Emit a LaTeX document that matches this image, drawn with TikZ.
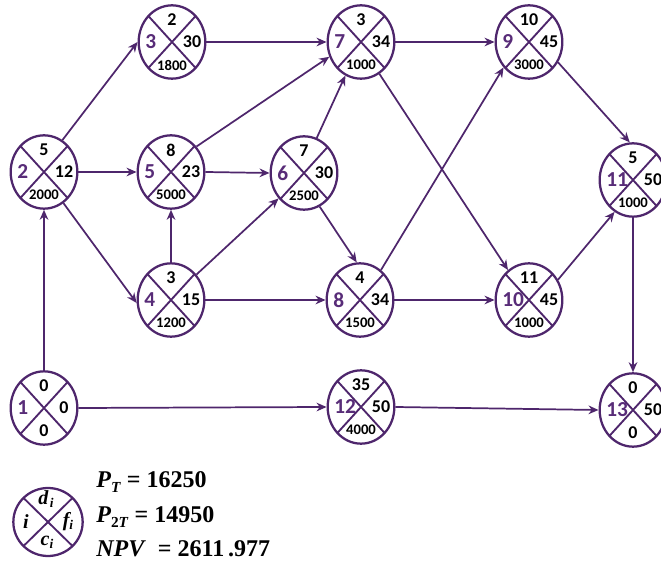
\documentclass[tikz,border=0pt]{standalone}
\usepackage{fontspec}
\setmainfont{Liberation Serif}
\newfontfamily\nodefont{Carlito}
\usetikzlibrary{arrows.meta,shapes.geometric}
\definecolor{lc}{RGB}{78,38,108}
\definecolor{nc}{RGB}{88,44,120}
\tikzset{
  ev/.style={ellipse, draw=lc, line width=1.7pt, minimum width=50pt, minimum height=55pt, inner sep=0pt,
    path picture={\draw[lc, line width=1.4pt] (path picture bounding box.north west) -- (path picture bounding box.south east)
      (path picture bounding box.north east) -- (path picture bounding box.south west);}},
  numi/.style={inner sep=0pt, anchor=west, font=\nodefont\bfseries\fontsize{16}{18}\selectfont, text=nc},
  numd/.style={inner sep=0pt, font=\nodefont\bfseries\fontsize{13.5}{15}\selectfont},
  numc/.style={inner sep=0pt, font=\nodefont\bfseries\fontsize{11}{12}\selectfont},
  edge/.style={draw=lc, line width=1.3pt, -{Stealth[length=7.5pt,width=6.5pt]}},
  legl/.style={inner sep=0pt, font=\bfseries\itshape\fontsize{15}{16}\selectfont},
  legt/.style={inner sep=0pt, anchor=west, font=\bfseries\fontsize{18}{20}\selectfont}
}
\newcommand\evnode[7]{%
  \node[ev] (#1) at (#2,#3) {};
  \node[numi] (#1i) at ({#2-27},#3) {#4};
  \node[numd] (#1d) at (#2,{#3-22}) {#5};
  \node[numd] (#1f) at ({#2+20},#3) {#6};
  \node[numc] (#1c) at (#2,{#3+23}) {#7};
}
\begin{document}
\begin{tikzpicture}[x=0.75pt,y=-0.75pt]
\useasboundingbox (0,0) rectangle (661,566);
\evnode{n1}{44}{408}{1}{0}{0}{\fontsize{13.5}{15}\selectfont 0}
\evnode{n2}{44}{172}{2}{5}{12}{2000}
\evnode{n3}{172}{42}{3}{2}{30}{1800}
\evnode{n4}{171}{300}{4}{3}{15}{1200}
\evnode{n5}{171}{172}{5}{8}{23}{5000}
\evnode{n6}{304}{173}{6}{7}{30}{2500}
\evnode{n7}{361}{42}{7}{3}{34}{1000}
\evnode{n8}{360}{300}{8}{4}{34}{1500}
\evnode{n9}{529}{42}{9}{10}{45}{3000}
\evnode{n10}{529}{300}{10}{11}{45}{1000}
\evnode{n11}{633}{180}{11}{5}{50}{1000}
\evnode{n12}{361}{407}{12}{35}{50}{4000}
\evnode{n13}{633}{410}{13}{0}{50}{\fontsize{13.5}{15}\selectfont 0}

\draw[edge] (n1.north) -- (n2.south);
\draw[edge] (n1.east) -- (n12.west);
\draw[edge] (n2.60) -- (n3.west);
\draw[edge] (n2.east) -- (n5.west);
\draw[edge] (n2.-58) -- (n4.185);
\draw[edge] (n3.east) -- (n7.west);
\draw[edge] (n5.45) -- (n7.205);
\draw[edge] (n5.east) -- (n6.west);
\draw[edge] (n4.north) -- (n5.south);
\draw[edge] (n4.45) -- (n6.225);
\draw[edge] (n4.east) -- (n8.west);
\draw[edge] (n6.70) -- (n7.-115);
\draw[edge] (n6.-65) -- (n8.95);
\draw[edge] (n7.east) -- (n9.west);
\draw[edge] (n7.-60) -- (n10.125);
\draw[edge] (n8.55) -- (n9.225);
\draw[edge] (n8.east) -- (n10.west);
\draw[edge] (n9.-35) -- (n11.95);
\draw[edge] (n10.35) -- (n11.-120);
\draw[edge] (n11.south) -- (n13.north);
\draw[edge] (n12.east) -- (n13.west);

% legend
\node[ev, minimum width=52pt, minimum height=51pt] (lg) at (48,522) {};
\node[legl] (lgd) at (46,499) {d\kern1pt\raisebox{-0.3ex}{\fontsize{10}{11}\selectfont i}};
\node[legl] (lgi) at (26,522) {i};
\node[legl] (lgf) at (68,522) {f\raisebox{-0.3ex}{\fontsize{10}{11}\selectfont i}};
\node[legl] (lgc) at (47,542) {c\raisebox{-0.3ex}{\fontsize{10}{11}\selectfont i}};
\node[legt] (pt) at (96,482) {\textit{P}\raisebox{-0.4ex}{\fontsize{11.5}{12}\selectfont\textit{T}}\ = 16250};
\node[legt] (p2t) at (96,517) {\textit{P}\raisebox{-0.4ex}{\fontsize{11.5}{12}\selectfont 2\textit{T}}\ = 14950};
\node[legt] (npv) at (96,549) {\textit{NPV}\ \ = 2611\,.977};
\end{tikzpicture}
\end{document}
